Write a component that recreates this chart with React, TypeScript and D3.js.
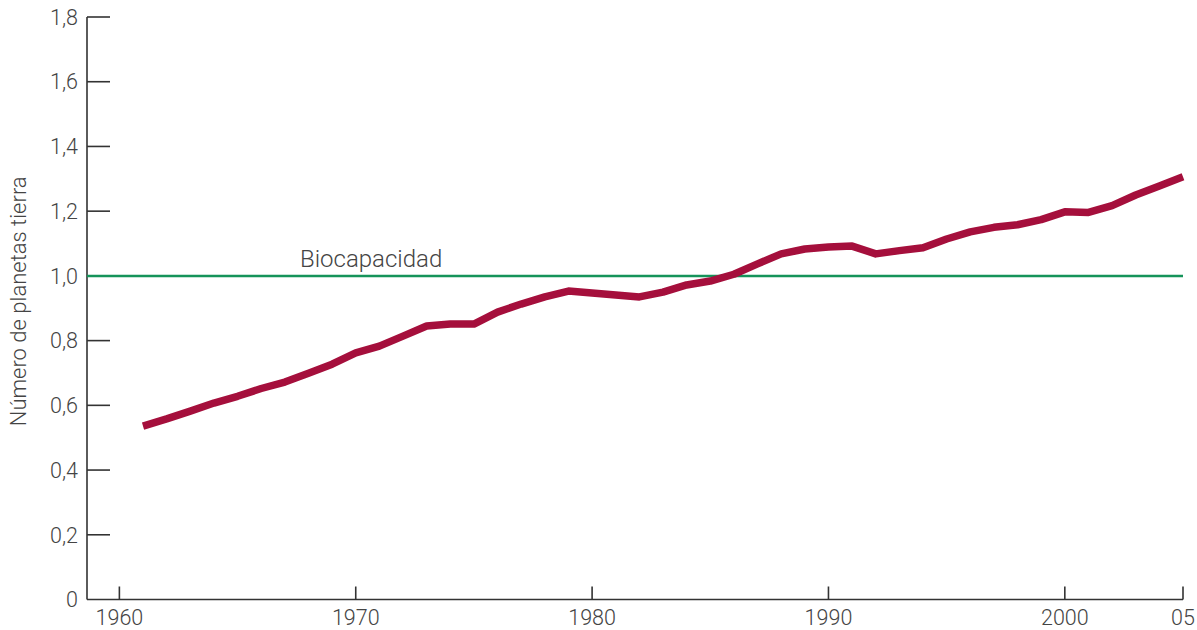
import React from 'react';
import * as d3 from 'd3';

const years = [
  1961, 1962, 1963, 1964, 1965, 1966, 1967, 1968, 1969, 1970,
  1971, 1972, 1973, 1974, 1975, 1976, 1977, 1978, 1979, 1980,
  1981, 1982, 1983, 1984, 1985, 1986, 1987, 1988, 1989, 1990,
  1991, 1992, 1993, 1994, 1995, 1996, 1997, 1998, 1999, 2000,
  2001, 2002, 2003, 2004, 2005,
];
const footprint = [
  0.536, 0.558, 0.582, 0.607, 0.628, 0.652, 0.672, 0.699, 0.727, 0.762,
  0.783, 0.814, 0.845, 0.851, 0.851, 0.888, 0.913, 0.935, 0.953, 0.947,
  0.941, 0.935, 0.950, 0.972, 0.984, 1.005, 1.037, 1.068, 1.083, 1.089,
  1.092, 1.068, 1.078, 1.087, 1.114, 1.136, 1.150, 1.158, 1.174, 1.198,
  1.196, 1.217, 1.250, 1.278, 1.306,
];
const biocapacity = 1.0;
const yTicks = [0, 0.2, 0.4, 0.6, 0.8, 1.0, 1.2, 1.4, 1.6, 1.8];
const xTicks = [1960, 1970, 1980, 1990, 2000, 2005];
const xTickLabels = ['1960', '1970', '1980', '1990', '2000', '05'];

const width = 1197;
const height = 630;
const font = 'Roboto, "Liberation Sans", sans-serif';
const textColor = '#444';

export default function App() {
  const x = d3.scaleLinear().domain([1958.63, 2005]).range([87, 1183]);
  const y = d3.scaleLinear().domain([0, 1.8]).range([599.5, 17]);

  const line = d3.line<number>()
    .x((_, i) => x(years[i]))
    .y(d => y(d));

  const fmt = (v: number) => (v === 0 ? '0' : d3.format('.1f')(v).replace('.', ','));

  return (
    <svg
      width={width}
      height={height}
      style={{ position: 'absolute', left: 0, top: 0, background: '#fff' }}
      fontFamily={font}
    >
      {/* y axis */}
      <line x1={x(1958.63)} x2={x(1958.63)} y1={y(0)} y2={y(1.8)} stroke="#333" strokeWidth={1.6} />
      {yTicks.map(t => (
        <g key={t} transform={`translate(0,${y(t)})`}>
          {t > 0 && t !== biocapacity && (
            <line x1={x(1958.63)} x2={x(1958.63) + 23} stroke="#333" strokeWidth={1.6} />
          )}
          <text x={78} dy="0.36em" textAnchor="end" fontSize={21.5} fontWeight={300} fill={textColor}>
            {fmt(t)}
          </text>
        </g>
      ))}

      {/* x axis */}
      <line x1={x(1958.63)} x2={x(2005)} y1={y(0)} y2={y(0)} stroke="#333" strokeWidth={1.6} />
      {xTicks.map((t, i) => (
        <g key={t} transform={`translate(${x(t)},0)`}>
          <line y1={y(0)} y2={y(0) - 13} stroke="#333" strokeWidth={1.6} />
          <text y={625} textAnchor="middle" fontSize={21.5} fontWeight={300} fill={textColor}>
            {xTickLabels[i]}
          </text>
        </g>
      ))}

      {/* y label */}
      <text
        transform={`translate(26,${(y(0) + y(1.8)) / 2 - 7}) rotate(-90)`}
        textAnchor="middle"
        fontSize={22}
        fontWeight={300}
        fill={textColor}
      >
        Número de planetas tierra
      </text>

      {/* biocapacity */}
      <line x1={x(1958.63)} x2={x(2005)} y1={y(biocapacity)} y2={y(biocapacity)} stroke="#15935a" strokeWidth={2.5} />
      <text x={300} y={267} fontSize={24} fontWeight={300} fill={textColor}>Biocapacidad</text>

      {/* footprint */}
      <path d={line(footprint) ?? ''} fill="none" stroke="#a50f3c" strokeWidth={7.5} strokeLinejoin="round" />
    </svg>
  );
}
